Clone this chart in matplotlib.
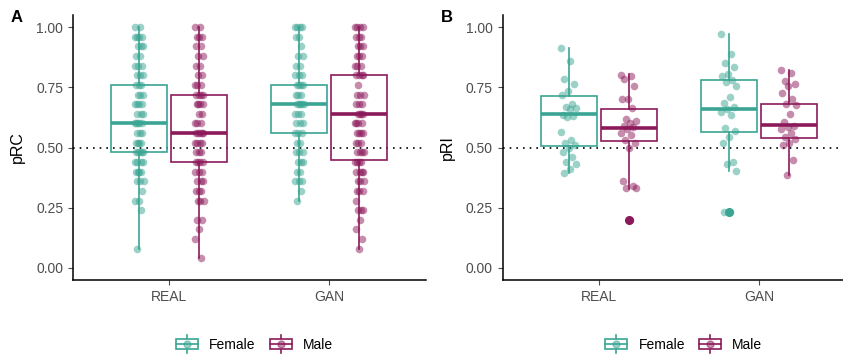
import numpy as np
import matplotlib
matplotlib.use("Agg")
import matplotlib.pyplot as plt
from matplotlib.legend_handler import HandlerBase
from matplotlib.patches import Rectangle, Patch
from matplotlib.lines import Line2D

plt.rcParams['font.family'] = ['Liberation Sans', 'DejaVu Sans']

teal = '#3aa593'
plum = '#8c1a5b'

groups = ['REAL', 'GAN']
sexes = ['Female', 'Male']

# panel A: pRC values (value, count)
pRC_female_real = [(1.00, 2), (0.96, 4), (0.92, 3), (0.88, 2), (0.84, 3), (0.80, 3), (0.76, 3),
                   (0.72, 3), (0.68, 4), (0.64, 3), (0.60, 5), (0.56, 3), (0.52, 4), (0.48, 5),
                   (0.44, 4), (0.40, 4), (0.36, 3), (0.32, 1), (0.28, 2), (0.24, 1), (0.08, 1)]
pRC_male_real = [(1.00, 2), (0.96, 3), (0.92, 2), (0.88, 2), (0.84, 2), (0.80, 2), (0.76, 3),
                 (0.72, 4), (0.68, 4), (0.64, 2), (0.60, 3), (0.56, 5), (0.52, 4), (0.48, 3),
                 (0.44, 4), (0.40, 3), (0.36, 3), (0.32, 3), (0.28, 3), (0.20, 2), (0.16, 1),
                 (0.12, 1), (0.04, 1)]
pRC_female_gan = [(1.00, 4), (0.96, 2), (0.92, 1), (0.88, 2), (0.84, 2), (0.80, 3), (0.76, 4),
                  (0.72, 3), (0.68, 5), (0.64, 3), (0.60, 3), (0.56, 3), (0.52, 2), (0.48, 3),
                  (0.44, 3), (0.40, 2), (0.36, 3), (0.32, 1), (0.28, 1)]
pRC_male_gan = [(1.00, 4), (0.96, 3), (0.92, 3), (0.88, 3), (0.84, 3), (0.80, 4), (0.76, 1),
                (0.72, 3), (0.68, 3), (0.64, 4), (0.60, 4), (0.56, 4), (0.52, 3), (0.48, 4),
                (0.44, 4), (0.40, 4), (0.36, 3), (0.32, 3), (0.28, 1), (0.24, 3), (0.20, 1),
                (0.16, 1), (0.12, 1), (0.08, 1)]

# box stats: (whisker low, q1, median, q3, whisker high)
pRC_box = {('REAL', 'Female'): (0.08, 0.48, 0.60, 0.76, 1.00),
           ('REAL', 'Male'): (0.04, 0.44, 0.56, 0.72, 1.00),
           ('GAN', 'Female'): (0.28, 0.56, 0.68, 0.76, 1.00),
           ('GAN', 'Male'): (0.08, 0.45, 0.64, 0.80, 1.00)}

# panel B: pRI values
pRI_female_real = [0.915, 0.858, 0.783, 0.765, 0.735, 0.72, 0.68, 0.67, 0.665, 0.66, 0.635, 0.63,
                   0.625, 0.565, 0.53, 0.52, 0.51, 0.50, 0.48, 0.46, 0.44, 0.43, 0.41, 0.395]
pRI_male_real = [0.80, 0.795, 0.785, 0.755, 0.70, 0.70, 0.665, 0.62, 0.61, 0.60, 0.59, 0.585,
                 0.575, 0.56, 0.55, 0.53, 0.52, 0.50, 0.36, 0.34, 0.33, 0.33, 0.197]
pRI_female_gan = [0.973, 0.887, 0.851, 0.834, 0.804, 0.796, 0.78, 0.772, 0.755, 0.708, 0.683,
                  0.669, 0.658, 0.648, 0.634, 0.579, 0.57, 0.545, 0.517, 0.441, 0.432, 0.404,
                  0.234, 0.234]
pRI_male_gan = [0.82, 0.81, 0.775, 0.765, 0.755, 0.725, 0.70, 0.68, 0.675, 0.64, 0.605, 0.59,
                0.585, 0.575, 0.56, 0.545, 0.535, 0.52, 0.51, 0.45, 0.385]

pRI_box = {('REAL', 'Female'): (0.395, 0.507, 0.641, 0.714, 0.915),
           ('REAL', 'Male'): (0.327, 0.525, 0.583, 0.659, 0.804),
           ('GAN', 'Female'): (0.404, 0.565, 0.660, 0.782, 0.973),
           ('GAN', 'Male'): (0.386, 0.538, 0.593, 0.679, 0.821)}
pRI_outliers = {('REAL', 'Female'): [], ('REAL', 'Male'): [0.197],
                ('GAN', 'Female'): [0.234], ('GAN', 'Male'): []}


def expand(pairs):
    return [v for v, n in pairs for _ in range(n)]


pRC_points = {('REAL', 'Female'): expand(pRC_female_real), ('REAL', 'Male'): expand(pRC_male_real),
              ('GAN', 'Female'): expand(pRC_female_gan), ('GAN', 'Male'): expand(pRC_male_gan)}
pRI_points = {('REAL', 'Female'): pRI_female_real, ('REAL', 'Male'): pRI_male_real,
              ('GAN', 'Female'): pRI_female_gan, ('GAN', 'Male'): pRI_male_gan}
pRC_outliers = {k: [] for k in pRC_box}

colors = {'Female': teal, 'Male': plum}
dodge = {'Female': -0.1875, 'Male': 0.1875}


class BoxKey(HandlerBase):
    def create_artists(self, legend, orig_handle, xdescent, ydescent, width, height, fontsize, trans):
        c = orig_handle.get_edgecolor()
        x0, y0 = -xdescent, -ydescent
        cx, cy = x0 + width / 2, y0 + height / 2
        rh = height * 0.75
        arts = [Line2D([cx, cx], [y0 - 0.25 * height, y0 + 1.25 * height], color=c, lw=1.2),
                Rectangle((x0, cy - rh / 2), width, rh, facecolor='white', edgecolor=c, lw=1.2),
                Line2D([x0, x0 + width], [cy, cy], color=c, lw=1.2),
                Line2D([cx], [cy], marker='o', ms=5, color=c, alpha=0.5, lw=0)]
        for a in arts:
            a.set_transform(trans)
        return arts


fig = plt.figure(figsize=(8.43, 3.56), dpi=100)
axA = fig.add_axes([73 / 843, 1 - 280 / 356, 352.5 / 843, 265 / 356])
axB = fig.add_axes([502.5 / 843, 1 - 280 / 356, 352.5 / 843, 265 / 356])

panels = [(axA, pRC_points, pRC_box, pRC_outliers, 'pRC', 0.028, 'A', 17, 0.302),
          (axB, pRI_points, pRI_box, pRI_outliers, 'pRI', 0.05, 'B', 447, 0.811)]

for ax, points, boxes, outl, ylab, jw, tag, tagx, legx in panels:
    ax.axhline(0.5, color='black', ls=(0, (1, 3)), lw=1.2, zorder=1)
    for gi, g in enumerate(groups):
        for s in sexes:
            pos = gi + 1 + dodge[s]
            lo, q1, med, q3, hi = boxes[(g, s)]
            st = dict(whislo=lo, q1=q1, med=med, q3=q3, whishi=hi, fliers=outl[(g, s)])
            c = colors[s]
            ax.bxp([st], positions=[pos], widths=0.35, showcaps=False, patch_artist=True,
                   boxprops=dict(facecolor='none', edgecolor=c, lw=1.2),
                   whiskerprops=dict(color=c, lw=1.2),
                   medianprops=dict(color=c, lw=2.6),
                   flierprops=dict(marker='o', markerfacecolor=c, markeredgecolor=c, ms=5.5),
                   zorder=2)
            vals = np.array(points[(g, s)])
            n = len(vals)
            off = ((np.arange(n) * 0.618034) % 1 - 0.5) * 2 * jw
            ax.scatter(pos + off, vals, s=30, color=c, alpha=0.5, lw=0, zorder=3)

    ax.set_xlim(0.4, 2.6)
    ax.set_ylim(-0.05, 1.05)
    ax.set_xticks([1, 2])
    ax.set_xticklabels(groups)
    ax.set_yticks([0, 0.25, 0.5, 0.75, 1.0])
    ax.set_yticklabels(['0.00', '0.25', '0.50', '0.75', '1.00'])
    ax.tick_params(colors='#4d4d4d', labelsize=10, length=3.5, width=0.8)
    ax.tick_params(labelcolor='#4d4d4d')
    for sp in ['top', 'right']:
        ax.spines[sp].set_visible(False)
    for sp in ['left', 'bottom']:
        ax.spines[sp].set_linewidth(1.1)
    ax.set_ylabel(ylab, fontsize=11.5)
    ax.yaxis.set_label_coords(-0.136, 0.5)
    fig.text(tagx / 843, 1 - 18 / 356, tag, fontsize=12, fontweight='bold', ha='center', va='center')

    handles = [Patch(facecolor='white', edgecolor=colors[s]) for s in sexes]
    ax.legend(handles, sexes, handler_map={Patch: BoxKey()}, loc='center',
              bbox_to_anchor=(legx, 0.032), bbox_transform=fig.transFigure, ncol=2,
              frameon=False, fontsize=10, handlelength=1.6, handleheight=1.0,
              columnspacing=1.0, handletextpad=0.8)

fig.savefig('out.png', dpi=100)
